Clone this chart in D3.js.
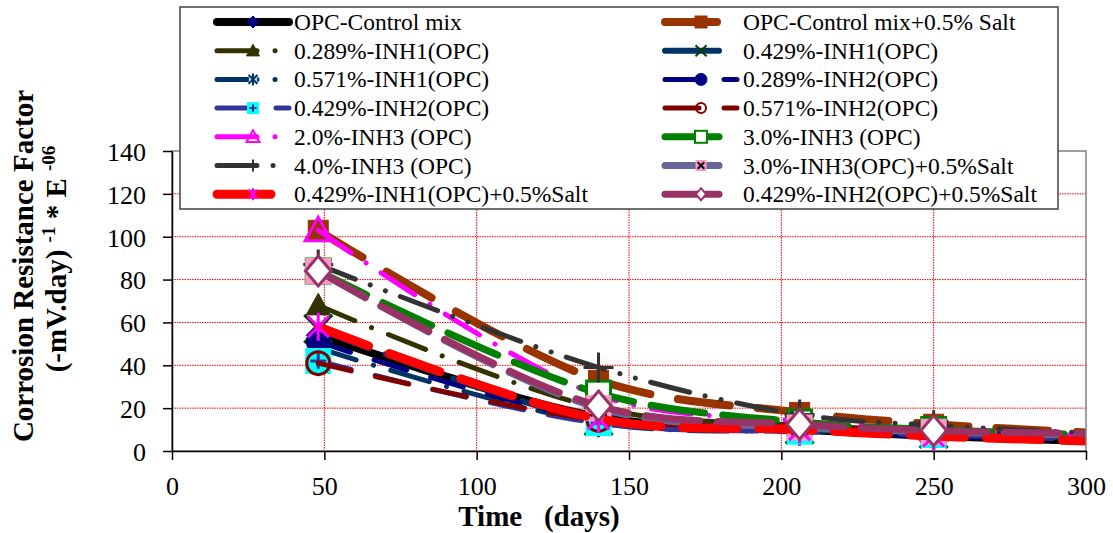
<!DOCTYPE html>
<html>
<head>
<meta charset="utf-8">
<script src="https://cdn.jsdelivr.net/npm/d3@7"></script>
<style>
  html, body { margin: 0; padding: 0; background: #fff; }
  svg { display: block; }
</style>
</head>
<body>
<svg id="chart" width="1113" height="533"></svg>
<script>
// ---------------- DATA ----------------
const days = [48, 140, 206, 250, 340];
const xTicks = [0, 50, 100, 150, 200, 250, 300];
const yTicks = [0, 20, 40, 60, 80, 100, 120, 140];

const seriesNames = [
  "OPC-Control mix",
  "OPC-Control mix+0.5% Salt",
  "0.289%-INH1(OPC)",
  "0.429%-INH1(OPC)",
  "0.571%-INH1(OPC)",
  "0.289%-INH2(OPC)",
  "0.429%-INH2(OPC)",
  "0.571%-INH2(OPC)",
  "2.0%-INH3 (OPC)",
  "3.0%-INH3 (OPC)",
  "4.0%-INH3 (OPC)",
  "3.0%-INH3(OPC)+0.5%Salt",
  "0.429%-INH1(OPC)+0.5%Salt",
  "0.429%-INH2(OPC)+0.5%Salt"
];

const opcControl      = [54, 16, 10, 7, 3];
const opcControlSalt  = [103, 33, 18, 12.5, 6];
const inh1_0289       = [68, 20, 12, 9, 5];
const inh1_0429       = [57, 14, 10, 8, 5];
const inh1_0571       = [48, 13, 9, 7, 4];
const inh2_0289       = [51, 14, 9, 7, 4];
const inh2_0429       = [42, 13, 9, 7.5, 4];
const inh2_0571       = [41, 14.5, 12, 9, 5];
const inh3_20         = [103, 26, 14, 10, 5];
const inh3_30         = [84, 27, 13.5, 10, 6];
const inh3_40         = [87, 39, 17, 12, 6];
const inh3_30salt     = [84, 20, 11, 9, 6];
const inh1_0429salt   = [58, 15, 10, 7, 3];
const inh2_0429salt   = [84, 21, 12.5, 9.5, 7.5];

const seriesValues = [opcControl, opcControlSalt, inh1_0289, inh1_0429, inh1_0571,
  inh2_0289, inh2_0429, inh2_0571, inh3_20, inh3_30, inh3_40, inh3_30salt,
  inh1_0429salt, inh2_0429salt];

// ---------------- STYLES ----------------
const styles = [
  {color:"#000000", w:8, dash:null, marker:"diamond", mfill:"#000080", mstroke:"#000080"},
  {color:"#993300", w:8, dash:"52,28", marker:"square", mfill:"#993300", mstroke:"#993300"},
  {color:"#333300", w:5, dash:"40,18,0.1,18", marker:"triangle", mfill:"#333300", mstroke:"#333300"},
  {color:"#003366", w:6, dash:"54,18", marker:"x", mfill:"none", mstroke:"#004000"},
  {color:"#003366", w:5, dash:"40,18,0.1,18", marker:"star", mfill:"#c8d0dc", mstroke:"#003366"},
  {color:"#000080", w:5, dash:"34,25", marker:"circle", mfill:"#000080", mstroke:"#000080"},
  {color:"#333399", w:5, dash:"34,25", marker:"squarePlus", mfill:"#00FFFF", mstroke:"#333399"},
  {color:"#800000", w:5, dash:"34,25", marker:"circleOpen", mfill:"none", mstroke:"#800000"},
  {color:"#FF00FF", w:5, dash:"40,18,0.1,18", marker:"triangleOpen", mfill:"none", mstroke:"#FF00FF"},
  {color:"#008000", w:7, dash:"54,18", marker:"squareOpen", mfill:"#ffffff", mstroke:"#008000"},
  {color:"#333333", w:5, dash:"40,16,0.1,16,0.1,16", marker:"plus", mfill:"none", mstroke:"#333333"},
  {color:"#666699", w:7, dash:"54,18", marker:"squareX", mfill:"#FF99CC", mstroke:"#000000"},
  {color:"#FF0000", w:9, dash:"54,22", marker:"star", mfill:"none", mstroke:"#FF00FF"},
  {color:"#993366", w:7, dash:"54,18", marker:"diamondOpen", mfill:"#ffffff", mstroke:"#993366"}
];

const FONT = "'Liberation Serif','Times New Roman',serif";

// ---------------- LAYOUT ----------------
const svg = d3.select("#chart");
svg.append("rect").attr("width",1113).attr("height",533).attr("fill","#fff");

const x = d3.scaleLinear().domain([0, 300]).range([172, 1086]);
const y = d3.scaleLinear().domain([0, 140]).range([451, 151]);

// gridlines
const grid = svg.append("g");
grid.selectAll("line.h").data(yTicks.filter(v => v > 0 && v < 140)).join("line")
  .attr("x1", x(0)).attr("x2", x(300)).attr("y1", d => y(d)).attr("y2", d => y(d))
  .attr("stroke", "#ff0000").attr("stroke-width", 1).attr("stroke-dasharray", "1.5,1");
grid.selectAll("line.v").data(xTicks.filter(v => v > 0 && v < 300)).join("line")
  .attr("y1", y(0)).attr("y2", y(140)).attr("x1", d => x(d)).attr("x2", d => x(d))
  .attr("stroke", "#ff0000").attr("stroke-width", 1).attr("stroke-dasharray", "1.5,1");

// clip
svg.append("defs").append("clipPath").attr("id","plotclip")
  .append("rect").attr("x", x(0)).attr("y", y(140)).attr("width", x(300)-x(0)).attr("height", y(0)-y(140));

// marker drawing
function drawMarker(g, type, cx, cy, s, st, sw) {
  const h = s/2;
  const stroke = st.mstroke;
  switch (type) {
    case "diamond":
      g.append("path").attr("d", `M${cx},${cy-h}L${cx+h},${cy}L${cx},${cy+h}L${cx-h},${cy}Z`)
        .attr("fill", st.mfill).attr("stroke", stroke).attr("stroke-width", 1);
      break;
    case "diamondOpen":
      g.append("path").attr("d", `M${cx},${cy-h}L${cx+h*0.85},${cy}L${cx},${cy+h}L${cx-h*0.85},${cy}Z`)
        .attr("fill", st.mfill).attr("stroke", stroke).attr("stroke-width", sw);
      break;
    case "square":
      g.append("rect").attr("x", cx-h).attr("y", cy-h).attr("width", s).attr("height", s)
        .attr("fill", st.mfill).attr("stroke", stroke).attr("stroke-width", 1);
      break;
    case "squareOpen":
      g.append("rect").attr("x", cx-h).attr("y", cy-h).attr("width", s).attr("height", s)
        .attr("fill", st.mfill).attr("stroke", stroke).attr("stroke-width", sw);
      break;
    case "triangle":
      g.append("path").attr("d", `M${cx},${cy-h}L${cx+h},${cy+h*0.8}L${cx-h},${cy+h*0.8}Z`)
        .attr("fill", st.mfill).attr("stroke", stroke).attr("stroke-width", 1);
      break;
    case "triangleOpen":
      g.append("path").attr("d", `M${cx},${cy-h}L${cx+h},${cy+h*0.8}L${cx-h},${cy+h*0.8}Z`)
        .attr("fill", st.mfill).attr("stroke", stroke).attr("stroke-width", sw);
      break;
    case "circle":
      g.append("circle").attr("cx", cx).attr("cy", cy).attr("r", h)
        .attr("fill", st.mfill).attr("stroke", stroke).attr("stroke-width", 1);
      break;
    case "circleOpen":
      g.append("circle").attr("cx", cx).attr("cy", cy).attr("r", h - sw/2)
        .attr("fill", "none").attr("stroke", stroke).attr("stroke-width", sw);
      break;
    case "x":
      g.append("path").attr("d", `M${cx-h},${cy-h}L${cx+h},${cy+h}M${cx-h},${cy+h}L${cx+h},${cy-h}`)
        .attr("stroke", stroke).attr("stroke-width", sw).attr("fill","none");
      break;
    case "plus":
      g.append("path").attr("d", `M${cx-h},${cy}L${cx+h},${cy}M${cx},${cy-h}L${cx},${cy+h}`)
        .attr("stroke", stroke).attr("stroke-width", sw).attr("fill","none");
      break;
    case "star":
      if (st.mfill !== "none") {
        g.append("rect").attr("x", cx-h*0.7).attr("y", cy-h*0.7).attr("width", s*0.7).attr("height", s*0.7)
          .attr("fill", st.mfill);
      }
      g.append("path").attr("d", `M${cx-h*0.75},${cy-h*0.75}L${cx+h*0.75},${cy+h*0.75}M${cx-h*0.75},${cy+h*0.75}L${cx+h*0.75},${cy-h*0.75}M${cx},${cy-h}L${cx},${cy+h}`)
        .attr("stroke", stroke).attr("stroke-width", sw).attr("fill","none");
      break;
    case "squarePlus":
      g.append("rect").attr("x", cx-h).attr("y", cy-h).attr("width", s).attr("height", s)
        .attr("fill", st.mfill).attr("stroke", "none");
      g.append("path").attr("d", `M${cx-h*0.6},${cy}L${cx+h*0.6},${cy}M${cx},${cy-h*0.6}L${cx},${cy+h*0.6}`)
        .attr("stroke", stroke).attr("stroke-width", sw).attr("fill","none");
      break;
    case "squareX":
      g.append("rect").attr("x", cx-h).attr("y", cy-h).attr("width", s).attr("height", s)
        .attr("fill", st.mfill).attr("stroke", "none");
      g.append("path").attr("d", `M${cx-h*0.6},${cy-h*0.6}L${cx+h*0.6},${cy+h*0.6}M${cx-h*0.6},${cy+h*0.6}L${cx+h*0.6},${cy-h*0.6}`)
        .attr("stroke", stroke).attr("stroke-width", sw).attr("fill","none");
      break;
  }
}

const plotMarkerSize = {diamond:24, diamondOpen:30, square:20, squareOpen:24, triangle:24, triangleOpen:26,
  circle:24, circleOpen:26, x:28, plus:30, star:28, squarePlus:26, squareX:26};
const legendMarkerSize = {diamond:12, diamondOpen:12, square:12, squareOpen:12, triangle:13, triangleOpen:13,
  circle:12, circleOpen:12, x:11, plus:12, star:12, squarePlus:12, squareX:11};

// series
const lineGen = d3.line().x(d => x(d[0])).y(d => y(d[1])).curve(d3.curveCatmullRom.alpha(0.5));
const plot = svg.append("g").attr("clip-path", "url(#plotclip)");
seriesValues.forEach((vals, i) => {
  const st = styles[i];
  const pts = days.map((d, j) => [d, vals[j]]);
  const g = plot.append("g");
  g.append("path").attr("d", lineGen(pts)).attr("fill", "none")
    .attr("stroke", st.color).attr("stroke-width", st.w)
    .attr("stroke-linecap", "round").attr("stroke-linejoin", "round")
    .attr("stroke-dasharray", st.dash);
  pts.forEach(p => drawMarker(g, st.marker, x(p[0]), y(p[1]), plotMarkerSize[st.marker], st, 3));
});

// plot border
svg.append("rect").attr("x", x(0)).attr("y", y(140)).attr("width", x(300)-x(0)).attr("height", y(0)-y(140))
  .attr("fill", "none").attr("stroke", "#808080").attr("stroke-width", 1.5);

// axes
const yAxis = svg.append("g").attr("transform", `translate(${x(0)},0)`)
  .call(d3.axisLeft(y).tickValues(yTicks).tickSize(9).tickPadding(17).tickSizeOuter(0));
const xAxis = svg.append("g").attr("transform", `translate(0,${y(0)})`)
  .call(d3.axisBottom(x).tickValues(xTicks).tickSize(9).tickSizeOuter(0));
[yAxis, xAxis].forEach(a => {
  a.select(".domain").attr("stroke", "#000").attr("stroke-width", 1.5);
  a.selectAll(".tick line").attr("stroke", "#000").attr("stroke-width", 1.5);
  a.selectAll(".tick text").attr("font-family", FONT).attr("font-size", 26).attr("fill", "#000");
});
yAxis.selectAll(".tick text").attr("dy", "0.36em");
xAxis.selectAll(".tick text").attr("y", 44).attr("dy", 0);

// axis titles
svg.append("text").attr("x", 539).attr("y", 526).attr("text-anchor", "middle")
  .attr("font-family", FONT).attr("font-size", 29).attr("font-weight", "bold")
  .style("white-space", "pre").text("Time   (days)");

svg.append("text").attr("transform", "translate(33,266) rotate(-90)").attr("text-anchor", "middle")
  .attr("font-family", FONT).attr("font-size", 29).attr("font-weight", "bold")
  .text("Corrosion Resistance Factor");
const yt2 = svg.append("text").attr("transform", "translate(66,259) rotate(-90)").attr("text-anchor", "middle")
  .attr("font-family", FONT).attr("font-size", 29).attr("font-weight", "bold")
  .style("white-space", "pre");
yt2.append("tspan").text("(-mV.day) ");
yt2.append("tspan").attr("font-size", 19).attr("dy", -11).text("-1");
yt2.append("tspan").attr("dy", 11).text(" * E ");
yt2.append("tspan").attr("font-size", 19).attr("dy", -11).text("-06");

// legend
const lg = svg.append("g");
lg.append("rect").attr("x", 180).attr("y", 7).attr("width", 878).attr("height", 202)
  .attr("fill", "#fff").attr("stroke", "#404040").attr("stroke-width", 1.5);
const rowY = i => 22 + i * 28.7;
seriesNames.forEach((name, i) => {
  const st = styles[i];
  const col = i % 2, row = Math.floor(i / 2);
  const x1 = col === 0 ? 217 : 665;
  const cy = rowY(row);
  const g = lg.append("g");
  g.append("line").attr("x1", x1).attr("x2", x1 + 72).attr("y1", cy).attr("y2", cy)
    .attr("stroke", st.color).attr("stroke-width", st.w)
    .attr("stroke-linecap", "round").attr("stroke-dasharray", st.dash);
  drawMarker(g, st.marker, x1 + 36, cy, legendMarkerSize[st.marker], st, 2);
  g.append("text").attr("x", col === 0 ? 294 : 743).attr("y", cy + 8)
    .attr("font-family", FONT).attr("font-size", 23.5).attr("fill", "#000")
    .style("white-space", "pre").text(name);
});
</script>
</body>
</html>
